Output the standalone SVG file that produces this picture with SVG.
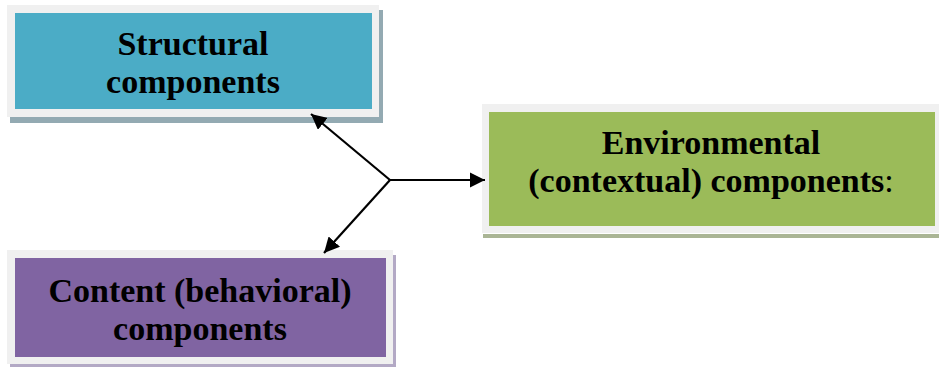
<svg xmlns="http://www.w3.org/2000/svg" width="939" height="367" viewBox="0 0 939 367">
<defs>
<style>
.frame{fill:#f0f0f0}
.lbl{font-family:"Liberation Serif","Times New Roman",serif;font-weight:bold;font-size:34px;fill:#000;text-anchor:middle}
.conn{stroke:#000;stroke-width:2.2;fill:none;marker-end:url(#ah)}
</style>
<marker id="ah" viewBox="0 0 10 10" refX="10" refY="5" markerWidth="7" markerHeight="7" orient="auto" markerUnits="strokeWidth">
<path d="M0,0 L10,5 L0,10 z" fill="#000"/>
</marker>
</defs>
<rect width="939" height="367" fill="#fff"/>
<g id="structural">
<rect x="10" y="10" width="373" height="113" fill="#93aab2"/>
<rect class="frame" x="7" y="5" width="372" height="112"/>
<rect x="15" y="13" width="357" height="96" fill="#4bacc6"/>
<text class="lbl" x="193" y="55">Structural</text>
<text class="lbl" x="193" y="93">components</text>
</g>
<g id="environmental">
<rect x="483" y="110" width="456" height="128" fill="#aab595"/>
<rect x="482" y="104" width="457" height="129" fill="#f0f0f0"/>
<rect x="483" y="233" width="456" height="1" fill="#ffffff"/>
<rect x="489" y="112" width="446" height="114" fill="#9bbb59"/>
<text class="lbl" x="711" y="154">Environmental</text>
<text class="lbl" x="711" y="192">(contextual) components<tspan font-weight="normal">:</tspan></text>
</g>
<g id="content">
<rect x="10" y="255" width="386" height="115" fill="#b3a9c5"/>
<rect class="frame" x="7" y="250" width="386" height="114"/>
<rect x="15" y="258" width="371" height="99" fill="#8064a2"/>
<text class="lbl" x="200" y="302">Content (behavioral)</text>
<text class="lbl" x="200" y="340">components</text>
</g>
<g id="connectors">
<line class="conn" x1="390" y1="180" x2="311" y2="114"/>
<line class="conn" x1="390" y1="180" x2="324" y2="253"/>
<line class="conn" x1="389" y1="180" x2="485" y2="180"/>
</g>
</svg>
